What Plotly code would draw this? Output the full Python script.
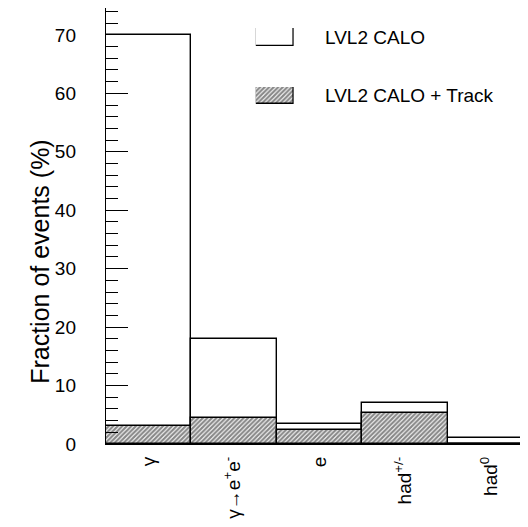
import plotly.graph_objects as go

categories = ["γ", "γ→e<sup>+</sup>e<sup>-</sup>", "e", "had<sup>+/-</sup>", "had<sup>0</sup>"]
calo = [70.0, 17.9, 3.4, 7.0, 1.1]
calo_track = [3.0, 4.5, 2.4, 5.3, 0.0]
series_names = ["LVL2 CALO", "LVL2 CALO + Track"]

FONT = "Liberation Sans, Arial, Helvetica, sans-serif"
OPEN = dict(color="white", line=dict(color="black", width=1.4))
HATCH = dict(color="white", line=dict(color="black", width=1.4),
             pattern=dict(shape="/", size=3.2, solidity=0.68,
                          fgcolor="#111111", bgcolor="white"))

fig = go.Figure()
fig.add_trace(go.Bar(x=categories, y=calo, name=series_names[0], width=1,
                     marker=OPEN, showlegend=False))
fig.add_trace(go.Bar(x=categories, y=calo_track, name=series_names[1], width=1,
                     marker=HATCH, showlegend=False))

# legend swatches (small auxiliary axes)
fig.add_trace(go.Bar(x=[0], y=[1], width=1, marker=OPEN, xaxis="x2", yaxis="y2",
                     showlegend=False, hoverinfo="skip"))
fig.add_trace(go.Bar(x=[0], y=[1], width=1, marker=HATCH, xaxis="x3", yaxis="y3",
                     showlegend=False, hoverinfo="skip"))

aux = dict(range=[-0.5, 0.5], visible=False, fixedrange=True)
auxy = dict(range=[0, 1], visible=False, fixedrange=True)

fig.update_layout(
    width=520, height=511,
    margin=dict(l=98, r=0, t=0, b=75),
    paper_bgcolor="white", plot_bgcolor="white",
    barmode="overlay", bargap=0,
    font=dict(family=FONT, size=19, color="black"),
    showlegend=False,
    xaxis=dict(type="category", range=[-0.5, 4.44], showgrid=False, automargin=False,
               showline=True, mirror=True, linecolor="black", linewidth=1.4,
               ticks="", tickangle=-90, tickfont=dict(size=19), ticklabelstandoff=4),
    yaxis=dict(range=[0, 74.6], showgrid=False, zeroline=False, automargin=False,
               showline=True, linecolor="black", linewidth=1.4,
               tickvals=[0, 10, 20, 30, 40, 50, 60, 70],
               ticks="inside", ticklen=22, tickwidth=1.3, tickcolor="black",
               minor=dict(dtick=2, ticks="inside", ticklen=12, tickwidth=1.3,
                          tickcolor="black", showgrid=False),
               ticklabelstandoff=25, tickfont=dict(size=19)),
    xaxis2=dict(domain=[0.355, 0.445], anchor="y2", **aux),
    yaxis2=dict(domain=[0.913, 0.954], anchor="x2", **auxy),
    xaxis3=dict(domain=[0.355, 0.445], anchor="y3", **aux),
    yaxis3=dict(domain=[0.780, 0.819], anchor="x3", **auxy),
)

fig.add_annotation(text=series_names[0], xref="paper", yref="paper",
                   x=0.514, y=0.933, xanchor="left", yanchor="middle",
                   showarrow=False, font=dict(size=19, family=FONT))
fig.add_annotation(text=series_names[1], xref="paper", yref="paper",
                   x=0.514, y=0.800, xanchor="left", yanchor="middle",
                   showarrow=False, font=dict(size=19, family=FONT))

fig.add_annotation(
    text="Fraction of events (%)", xref="paper", yref="paper",
    x=-0.196, y=0.704, textangle=-90, showarrow=False,
    font=dict(size=25, family=FONT, color="black"),
)

fig.write_html("out.html")
